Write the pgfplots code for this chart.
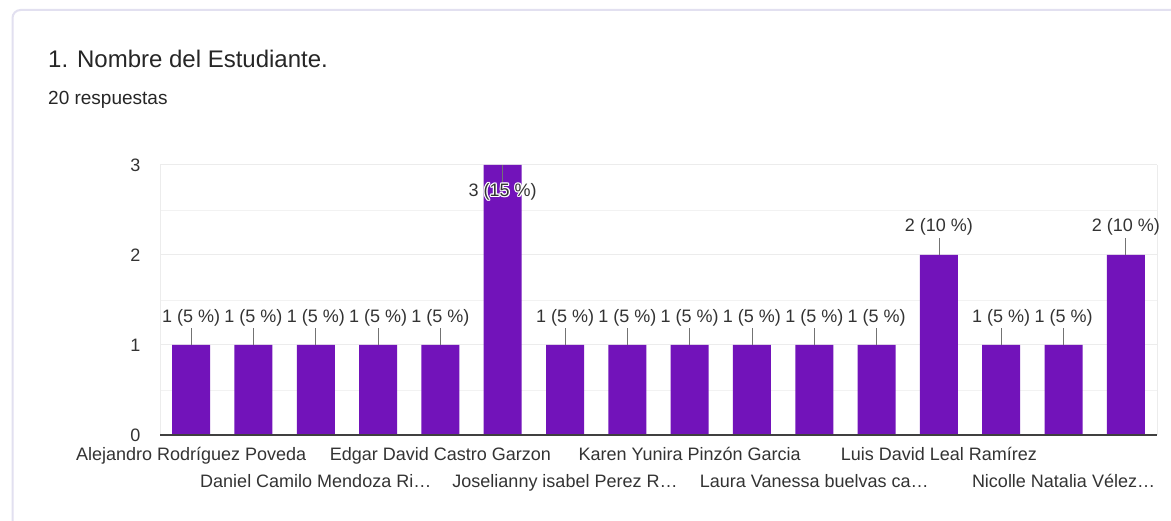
\documentclass[border=0pt]{standalone}
\usepackage{pgfplots}
\pgfplotsset{compat=1.18}
\usepackage{fontspec}
\setmainfont{Liberation Sans}
\definecolor{barpurple}{RGB}{114,19,186}
\definecolor{txt}{RGB}{51,51,51}
\definecolor{gridc}{RGB}{236,236,236}
\definecolor{cardedge}{RGB}{226,224,240}
\pgfplotsset{halo/.style={draw=none, mark=none, point meta=explicit symbolic, nodes near coords,
  every node near coord/.style={anchor=center,font=\fontsize{18}{20}\selectfont,text=white,inner sep=0pt,#1}}}
\begin{document}
\begin{tikzpicture}
\path[use as bounding box] (0pt,0pt) rectangle (1171pt,521pt);
\fill[white] (0pt,0pt) rectangle (1171pt,521pt);
% card border
\draw[cardedge,line width=2pt] (12.5pt,0pt) -- (12.5pt,503pt) arc (180:90:8pt) -- (1171pt,511pt);
\node[anchor=base west,font=\fontsize{24}{28}\selectfont,text=black!85,inner sep=0pt] at (48pt,453pt) {1. Nombre del Estudiante.};
\node[anchor=base west,font=\fontsize{19}{22}\selectfont,text=black!85,inner sep=0pt] at (48pt,416pt) {20 respuestas};
\begin{axis}[
  at={(160pt,86pt)}, anchor=south west,
  scale only axis, width=997pt, height=270pt,
  xmin=-0.5, xmax=15.5, ymin=0, ymax=3,
  axis line style={draw=none},
  ytick={0,1,2,3}, minor ytick={0.5,1.5,2.5},
  ymajorgrids, yminorgrids,
  major grid style={gridc,line width=1pt},
  minor grid style={gridc!70,line width=0.8pt},
  major tick length=0pt, minor tick length=0pt,
  yticklabel style={font=\fontsize{18}{20}\selectfont,text=txt,xshift=-16pt},
  /pgf/number format/assume math mode=true,
  xtick={0,4,8,12},
  xticklabels={Alejandro Rodríguez Poveda,Edgar David Castro Garzon,Karen Yunira Pinzón Garcia,Luis David Leal Ramírez},
  xticklabel style={font=\fontsize{18}{20}\selectfont,text=txt,anchor=north,yshift=-9pt},
  extra x ticks={2,6,10,14},
  extra x tick labels={Daniel Camilo Mendoza Ri…,Joselianny isabel Perez R…,Laura Vanessa buelvas ca…,Nicolle Natalia Vélez…},
  extra x tick style={grid=none,major tick length=0pt,xticklabel style={yshift=-27pt}},
  clip=false,
]
\addplot[ybar, bar width=38pt, fill=barpurple, draw=none] coordinates {
(0,1) (1,1) (2,1) (3,1) (4,1) (5,3) (6,1) (7,1) (8,1) (9,1) (10,1) (11,1) (12,2) (13,1) (14,1) (15,2)};
% frame
\draw[gridc,line width=1pt] (axis cs:-0.5,0) -- (axis cs:-0.5,3);
\draw[gridc,line width=1pt] (axis cs:15.5,0) -- (axis cs:15.5,3);
\draw[black!75,line width=1.3pt] (axis cs:-0.5,0) -- (axis cs:15.5,0);
% leader lines
\addplot[draw=none, mark=none, error bars/.cd, y dir=both, y explicit, error mark=none, error bar style={black!55,line width=0.8pt}] coordinates {
(0,1) += (0,0.19) (1,1) += (0,0.19) (2,1) += (0,0.19) (3,1) += (0,0.19) (4,1) += (0,0.19)
(5,3) -= (0,0.19) (6,1) += (0,0.19) (7,1) += (0,0.19) (8,1) += (0,0.19) (9,1) += (0,0.19)
(10,1) += (0,0.19) (11,1) += (0,0.19) (12,2) += (0,0.19) (13,1) += (0,0.19) (14,1) += (0,0.19) (15,2) += (0,0.19)};
% value labels
\addplot[draw=none, mark=none, point meta=explicit symbolic, nodes near coords,
  every node near coord/.style={anchor=center,font=\fontsize{18}{20}\selectfont,text=txt,inner sep=0pt}] coordinates {
(0,1.3) [1 (5 \%)] (1,1.3) [1 (5 \%)] (2,1.3) [1 (5 \%)] (3,1.3) [1 (5 \%)] (4,1.3) [1 (5 \%)]
(6,1.3) [1 (5 \%)] (7,1.3) [1 (5 \%)] (8,1.3) [1 (5 \%)] (9,1.3) [1 (5 \%)] (10,1.3) [1 (5 \%)]
(11,1.3) [1 (5 \%)] (12,2.31) [2 (10 \%)] (13,1.3) [1 (5 \%)] (14,1.3) [1 (5 \%)] (15,2.31) [2 (10 \%)]};
% white halo for the label over the tallest bar
\addplot[halo={xshift=1.2pt}] coordinates {(5,2.7) [3 (15 \%)]};
\addplot[halo={xshift=-1.2pt}] coordinates {(5,2.7) [3 (15 \%)]};
\addplot[halo={yshift=1.2pt}] coordinates {(5,2.7) [3 (15 \%)]};
\addplot[halo={yshift=-1.2pt}] coordinates {(5,2.7) [3 (15 \%)]};
\addplot[halo={xshift=0.9pt,yshift=0.9pt}] coordinates {(5,2.7) [3 (15 \%)]};
\addplot[halo={xshift=-0.9pt,yshift=0.9pt}] coordinates {(5,2.7) [3 (15 \%)]};
\addplot[halo={xshift=0.9pt,yshift=-0.9pt}] coordinates {(5,2.7) [3 (15 \%)]};
\addplot[halo={xshift=-0.9pt,yshift=-0.9pt}] coordinates {(5,2.7) [3 (15 \%)]};
\addplot[halo={text=txt}] coordinates {(5,2.7) [3 (15 \%)]};
\end{axis}
\end{tikzpicture}
\end{document}
